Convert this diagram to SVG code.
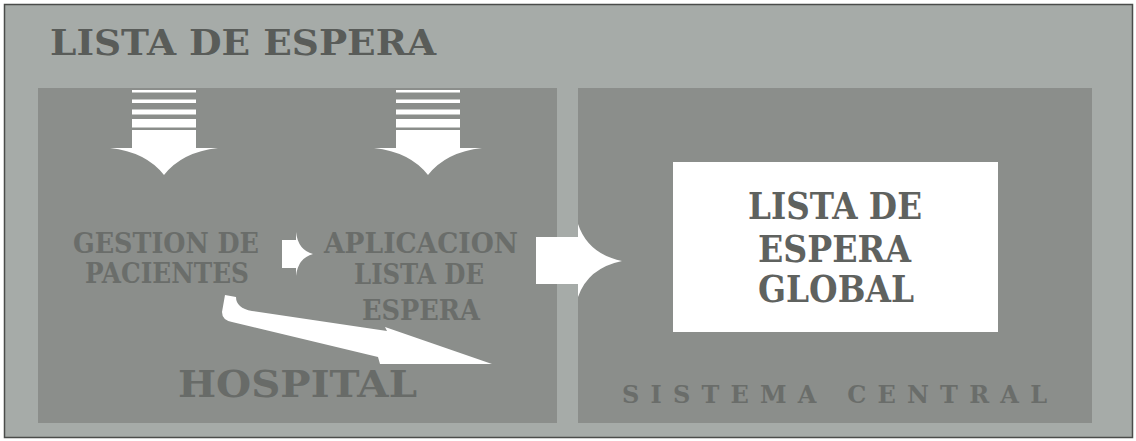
<svg xmlns="http://www.w3.org/2000/svg" width="1136" height="441" viewBox="0 0 1136 441">
<defs>
<style>
.t{font-family:"DejaVu Serif","Liberation Serif",serif;font-weight:bold;text-anchor:middle}
.panel{fill:#8b8e8b}
.arrow{fill:#ffffff}
.inner{fill:#6a6d6a}
</style>
<g id="downArrow">
<rect x="132" y="90" width="64" height="2.5"/>
<rect x="132" y="99.5" width="64" height="3.5"/>
<rect x="132" y="109.5" width="64" height="5"/>
<rect x="132" y="119" width="64" height="8.5"/>
<path d="M132,130 H196 V148 H218 Q182,152 164,175 Q146,152 110,148 H132 Z"/>
</g>
</defs>
<rect x="0" y="0" width="1136" height="441" fill="#ffffff"/>
<rect x="4.5" y="4.5" width="1128" height="433" fill="#a6aba8" stroke="#4a4c4a" stroke-width="1.5"/>
<text class="t" x="243" y="55" font-size="36" fill="#595c59" textLength="386" lengthAdjust="spacingAndGlyphs">LISTA DE ESPERA</text>

<g id="hospital">
<rect class="panel" x="38" y="88" width="519" height="335"/>
<text class="t" x="297.5" y="397" font-size="37" fill="#686b68" textLength="239" lengthAdjust="spacingAndGlyphs">HOSPITAL</text>
</g>
<g id="sistema-central">
<rect class="panel" x="578" y="88" width="514" height="335"/>
<text class="t" x="834.5" y="403" font-size="24" fill="#6a6d6a" textLength="425" lengthAdjust="spacing">SISTEMA CENTRAL</text>
</g>
<g id="gestion-pacientes">
<text class="t inner" x="166" y="253" font-size="27" textLength="186" lengthAdjust="spacingAndGlyphs">GESTION DE</text>
<text class="t inner" x="167" y="283" font-size="27" textLength="164" lengthAdjust="spacingAndGlyphs">PACIENTES</text>
</g>
<g id="aplicacion-lista">
<text class="t inner" x="421" y="253" font-size="27" textLength="194" lengthAdjust="spacingAndGlyphs">APLICACION</text>
<text class="t inner" x="419" y="284" font-size="27" textLength="130" lengthAdjust="spacingAndGlyphs">LISTA DE</text>
<text class="t inner" x="421" y="320" font-size="27" textLength="118" lengthAdjust="spacingAndGlyphs">ESPERA</text>
</g>
<g id="lista-global">
<rect x="673" y="162" width="325" height="170" fill="#ffffff"/>
<text class="t" x="835" y="219" font-size="37" fill="#5f625f" textLength="174" lengthAdjust="spacingAndGlyphs">LISTA DE</text>
<text class="t" x="834.5" y="262" font-size="37" fill="#5f625f" textLength="153" lengthAdjust="spacingAndGlyphs">ESPERA</text>
<text class="t" x="836" y="302" font-size="37" fill="#5f625f" textLength="156" lengthAdjust="spacingAndGlyphs">GLOBAL</text>
</g>
<g id="connectors" class="arrow">
<use href="#downArrow"/>
<use href="#downArrow" transform="translate(264,0)"/>
<path d="M282,240 H296 V232 Q298,250 313,254 Q298,258 296,276 V268 H282 Z"/>
<path d="M536,237 H578 V224 Q588,254 622,261 Q588,268 578,297 V284 H536 Z"/>
<path d="M225,295 L236,297 Q236,308 252,311 L387,331 L385,327 L492,364 L380,364 L378,357 L232,322 Q222,320 222,312 Z"/>
</g>
</svg>
